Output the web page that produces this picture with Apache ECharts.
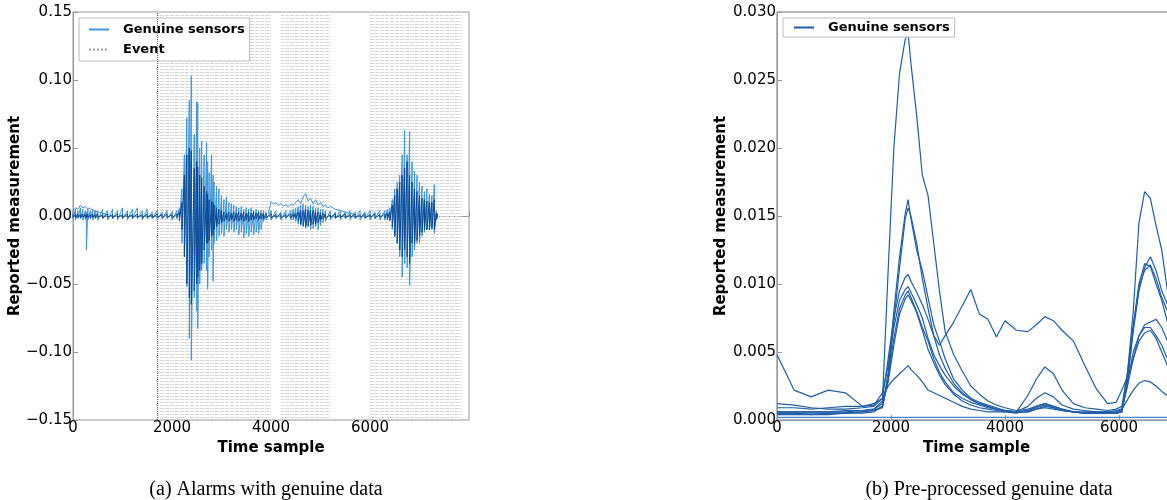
<!DOCTYPE html>
<html>
<head>
<meta charset="utf-8">
<title>Genuine sensors</title>
<script src="https://cdn.jsdelivr.net/npm/echarts@6/dist/echarts.min.js"></script>
<style>
html,body{margin:0;padding:0;background:#fff;}
#main{width:1167px;height:500px;}
</style>
</head>
<body>
<div id="main"></div>
<script>
// ---- (a) raw readings: envelope of all sensors ----
var rawT = [0,50,100,150,200,250,270,300,350,400,450,500,
	600,700,800,900,1000,1100,1200,1300,1400,1500,1600,1700,1800,1900,2000,2100,
	2150,2200,2250,2300,2350,2390,2450,2500,2520,2560,2600,2650,2700,2720,2750,2800,2830,2850,2900,2950,3000,
	3050,3100,3150,3200,3250,3300,3350,3400,3450,3500,3550,3600,3650,3700,3750,3800,3850,3900,
	4000,4100,4200,4300,4400,4450,4500,4550,4600,4650,4700,4750,4800,4850,4900,4950,5000,5050,5100,
	5200,5300,5400,5500,5600,5700,5800,5900,6000,6100,6200,6300,6350,
	6400,6450,6500,6550,6600,6650,6700,6750,6800,6850,6900,6950,7000,7050,7100,7150,7200,7250,7300,7340,7360];
var lightHi = [0.004,0.005,0.004,0.006,0.005,0.004,0.003,0.005,0.004,0.005,0.004,0.004,
	0.005,0.004,0.005,0.004,0.006,0.004,0.005,0.006,0.004,0.005,0.003,0.004,0.003,0.004,0.003,0.004,
	0.006,0.020,0.045,0.072,0.085,0.103,0.060,0.084,0.083,0.050,0.055,0.045,0.054,0.040,0.032,0.045,0.030,0.025,0.022,0.020,0.015,
	0.012,0.014,0.010,0.009,0.008,0.007,0.006,0.007,0.005,0.006,0.005,0.006,0.004,0.005,0.004,0.004,0.004,0.003,
	0.004,0.004,0.003,0.004,0.004,0.005,0.006,0.007,0.008,0.009,0.008,0.007,0.008,0.007,0.006,0.006,0.005,0.005,0.004,
	0.004,0.003,0.004,0.003,0.004,0.003,0.004,0.003,0.004,0.003,0.004,0.004,0.005,
	0.006,0.012,0.020,0.025,0.030,0.045,0.063,0.045,0.062,0.040,0.033,0.030,0.025,0.022,0.018,0.020,0.016,0.015,0.023,0.004,0.002];
var lightLo = [-0.002,-0.003,-0.002,-0.002,-0.003,-0.003,-0.025,-0.003,-0.002,-0.003,-0.002,-0.003,
	-0.002,-0.003,-0.002,-0.003,-0.002,-0.003,-0.002,-0.002,-0.003,-0.002,-0.002,-0.003,-0.002,-0.002,-0.003,-0.002,
	-0.004,-0.020,-0.030,-0.052,-0.090,-0.106,-0.060,-0.070,-0.083,-0.050,-0.040,-0.035,-0.040,-0.054,-0.030,-0.025,-0.048,-0.020,-0.018,-0.015,-0.013,
	-0.015,-0.010,-0.012,-0.010,-0.012,-0.010,-0.014,-0.012,-0.016,-0.013,-0.015,-0.012,-0.014,-0.012,-0.013,-0.010,-0.004,-0.003,
	-0.003,-0.002,-0.003,-0.002,-0.003,-0.003,-0.004,-0.006,-0.007,-0.008,-0.009,-0.008,-0.010,-0.009,-0.008,-0.010,-0.007,-0.005,-0.004,
	-0.003,-0.002,-0.003,-0.002,-0.003,-0.002,-0.003,-0.002,-0.003,-0.002,-0.003,-0.003,-0.003,
	-0.004,-0.010,-0.015,-0.020,-0.030,-0.045,-0.035,-0.038,-0.051,-0.030,-0.025,-0.020,-0.020,-0.015,-0.012,-0.010,-0.010,-0.010,-0.013,-0.003,-0.002];
var darkHi = [0.0015,0.001,0.0015,0.001,0.0015,0.001,0.001,0.0015,0.001,0.0015,0.001,0.0015,
	0.001,0.0015,0.001,0.0015,0.001,0.0015,0.001,0.0015,0.001,0.0015,0.001,0.0015,0.001,0.0015,0.001,0.0015,
	0.003,0.010,0.030,0.045,0.050,0.048,0.035,0.040,0.036,0.030,0.028,0.022,0.018,0.016,0.012,0.011,0.010,0.008,0.006,0.005,0.004,
	0.003,0.002,0.003,0.002,0.003,0.002,0.003,0.002,0.003,0.002,0.003,0.002,0.003,0.002,0.003,0.002,0.002,0.0015,
	0.0015,0.001,0.0015,0.001,0.0015,0.0015,0.002,0.003,0.004,0.004,0.005,0.004,0.004,0.004,0.003,0.003,0.002,0.002,0.0015,
	0.001,0.0015,0.001,0.0015,0.001,0.0015,0.001,0.0015,0.001,0.0015,0.001,0.0015,0.002,
	0.003,0.008,0.015,0.020,0.025,0.030,0.035,0.040,0.030,0.025,0.020,0.018,0.015,0.013,0.012,0.011,0.010,0.010,0.012,0.002,0.001];
var darkLo = [-0.001,-0.0015,-0.001,-0.0015,-0.001,-0.0015,-0.001,-0.001,-0.0015,-0.001,-0.0015,-0.001,
	-0.0015,-0.001,-0.0015,-0.001,-0.0015,-0.001,-0.0015,-0.001,-0.0015,-0.001,-0.0015,-0.001,-0.0015,-0.001,-0.0015,-0.001,
	-0.003,-0.010,-0.030,-0.050,-0.060,-0.065,-0.055,-0.050,-0.045,-0.040,-0.035,-0.025,-0.020,-0.020,-0.018,-0.015,-0.014,-0.010,-0.008,-0.006,-0.005,
	-0.004,-0.003,-0.004,-0.003,-0.004,-0.003,-0.004,-0.003,-0.004,-0.003,-0.004,-0.003,-0.003,-0.002,-0.003,-0.002,-0.002,-0.0015,
	-0.0015,-0.001,-0.0015,-0.001,-0.0015,-0.0015,-0.002,-0.004,-0.006,-0.007,-0.008,-0.007,-0.007,-0.006,-0.006,-0.005,-0.003,-0.002,-0.0015,
	-0.001,-0.0015,-0.001,-0.0015,-0.001,-0.0015,-0.001,-0.0015,-0.001,-0.0015,-0.001,-0.0015,-0.002,
	-0.003,-0.008,-0.015,-0.020,-0.025,-0.030,-0.025,-0.030,-0.035,-0.020,-0.020,-0.018,-0.015,-0.012,-0.010,-0.010,-0.010,-0.009,-0.010,-0.002,-0.001];
// one sensor sitting a little high at the start
var earlyT = [0,50,100,150,200,250,300,350,400,500,600,700];
var earlyV = [0.004,0.006,0.005,0.008,0.006,0.007,0.005,0.006,0.004,0.003,0.002,0.001];
// one sensor drifting up between the 1st and 3rd event
var driftT = [3950,4000,4050,4100,4150,4200,4250,4300,4350,4400,4450,4500,4550,4600,4650,4700,4750,4800,4850,4900,4950,5000,5050,5100,5150,5200,5300,5400,5500,5600,5700];
var driftV = [0.002,0.0105,0.009,0.0095,0.008,0.009,0.0075,0.008,0.007,0.0085,0.008,0.010,0.012,0.009,0.014,0.0165,0.011,0.013,0.009,0.012,0.008,0.010,0.007,0.008,0.006,0.007,0.005,0.004,0.003,0.002,0.001];
var eventRanges = [[1700,4000],[4200,5200],[6000,7850]];
var eventStart = 1700;

// ---- (b) pre-processed readings, one array per sensor ----
var ppT = [0,300,600,900,1200,1500,1700,1850,
	1950,2050,2150,2250,2300,2350,2450,2550,
	2650,2750,2850,2950,3100,3250,3400,3550,
	3700,3850,4000,4200,4400,4550,4700,4850,
	5000,5200,5400,5600,5800,5950,6050,6150,
	6250,6350,6450,6550,6650,6750,6850,6950];
var sensorA = [0.0006,0.0006,0.0006,0.0006,0.0007,0.0007,0.0008,0.0014,
	0.0110,0.0200,0.0255,0.0280,0.0284,0.0262,0.0224,0.0180,
	0.0165,0.0130,0.0095,0.0065,0.0048,0.0036,0.0025,0.0019,
	0.0014,0.0011,0.0009,0.0007,0.0008,0.0010,0.0012,0.0010,
	0.0008,0.0006,0.0005,0.0005,0.0005,0.0005,0.0006,0.0035,
	0.0080,0.0145,0.0168,0.0163,0.0143,0.0125,0.0095,0.0080];
var sensorB = [0.0005,0.0005,0.0005,0.0005,0.0005,0.0006,0.0007,0.0009,
	0.0035,0.0080,0.0120,0.0152,0.0162,0.0148,0.0125,0.0110,
	0.0090,0.0070,0.0058,0.0045,0.0030,0.0022,0.0016,0.0013,
	0.0011,0.0009,0.0007,0.0006,0.0007,0.0009,0.0011,0.0009,
	0.0007,0.0006,0.0005,0.0005,0.0005,0.0005,0.0006,0.0030,
	0.0065,0.0095,0.0112,0.0120,0.0110,0.0095,0.0085,0.0075];
var sensorC = [0.0012,0.0011,0.0009,0.0008,0.0008,0.0009,0.0010,0.0016,
	0.0045,0.0075,0.0095,0.0105,0.0107,0.0102,0.0094,0.0085,
	0.0074,0.0062,0.0055,0.0062,0.0072,0.0084,0.0096,0.0078,
	0.0074,0.0061,0.0073,0.0066,0.0065,0.0070,0.0076,0.0073,
	0.0066,0.0058,0.0040,0.0023,0.0012,0.0013,0.0022,0.0032,
	0.0045,0.0062,0.0070,0.0072,0.0074,0.0068,0.0058,0.0050];
var sensorD = [0.0009,0.0009,0.0008,0.0009,0.0010,0.0010,0.0012,0.0016,
	0.0025,0.0030,0.0034,0.0038,0.0040,0.0037,0.0033,0.0028,
	0.0022,0.0020,0.0018,0.0016,0.0013,0.0010,0.0008,0.0007,
	0.0006,0.0006,0.0006,0.0006,0.0006,0.0008,0.0009,0.0008,
	0.0007,0.0006,0.0006,0.0006,0.0006,0.0007,0.0008,0.0015,
	0.0022,0.0027,0.0029,0.0028,0.0025,0.0021,0.0018,0.0016];
var sensorE = [0.0048,0.0022,0.0017,0.0022,0.0020,0.0010,0.0011,0.0020,
	0.0040,0.0068,0.0088,0.0096,0.0098,0.0094,0.0085,0.0075,
	0.0060,0.0048,0.0040,0.0033,0.0025,0.0019,0.0015,0.0012,
	0.0010,0.0008,0.0007,0.0006,0.0018,0.0030,0.0039,0.0034,
	0.0022,0.0012,0.0009,0.0008,0.0007,0.0008,0.0010,0.0035,
	0.0070,0.0100,0.0115,0.0113,0.0100,0.0088,0.0072,0.0062];
var sensorF = [0.0006,0.0006,0.0006,0.0006,0.0006,0.0007,0.0008,0.0012,
	0.0030,0.0060,0.0082,0.0092,0.0095,0.0090,0.0080,0.0068,
	0.0058,0.0045,0.0035,0.0028,0.0020,0.0016,0.0013,0.0011,
	0.0009,0.0008,0.0007,0.0006,0.0010,0.0016,0.0020,0.0017,
	0.0011,0.0008,0.0007,0.0006,0.0006,0.0006,0.0008,0.0028,
	0.0050,0.0062,0.0068,0.0068,0.0062,0.0055,0.0045,0.0040];
var sensorG = [0.0005,0.0005,0.0004,0.0004,0.0005,0.0005,0.0006,0.0010,
	0.0028,0.0055,0.0078,0.0089,0.0092,0.0088,0.0079,0.0066,
	0.0052,0.0042,0.0033,0.0026,0.0019,0.0014,0.0011,0.0009,
	0.0008,0.0007,0.0006,0.0005,0.0007,0.0010,0.0012,0.0010,
	0.0008,0.0006,0.0005,0.0005,0.0005,0.0005,0.0007,0.0025,
	0.0045,0.0058,0.0064,0.0066,0.0060,0.0050,0.0040,0.0035];
var sensorH = [0.0004,0.0004,0.0004,0.0005,0.0005,0.0006,0.0007,0.0010,
	0.0030,0.0072,0.0112,0.0148,0.0156,0.0150,0.0130,0.0104,
	0.0082,0.0062,0.0048,0.0038,0.0027,0.0020,0.0015,0.0012,
	0.0010,0.0008,0.0007,0.0006,0.0006,0.0008,0.0010,0.0009,
	0.0007,0.0006,0.0005,0.0005,0.0005,0.0005,0.0006,0.0030,
	0.0068,0.0098,0.0110,0.0114,0.0104,0.0090,0.0080,0.0070];
var flatT = [0,7000];
var flatV = [0.0002,0.0002];

var xTicks = [0,2000,4000,6000];

function zip(t, v){
	var out = [];
	for (var i = 0; i < t.length; i++) out.push([t[i], v[i]]);
	return out;
}
// each sample drawn as a vertical stroke from high to low
function strokes(t, hi, lo){
	var out = [];
	for (var i = 0; i < t.length; i++){
		out.push([t[i], hi[i]]);
		out.push([t[i], lo[i]]);
	}
	return out;
}
function fmtNum(v, d){
	if (Math.abs(v) < 1e-9) return (0).toFixed(d);
	return (v < 0 ? '\u2212' : '') + Math.abs(v).toFixed(d);
}

// hatch pattern for the event zones
var hatch = document.createElement('canvas');
hatch.width = 5; hatch.height = 3;
var hctx = hatch.getContext('2d');
hctx.fillStyle = '#d6d6d6';
hctx.fillRect(0, 0, 4, 1);

var font = 'DejaVu Sans';
function xAxisOpt(idx, max){
	return {
		type:'value', gridIndex:idx, min:0, max:max, interval:2000,
		name:'Time sample', nameLocation:'middle', nameGap:13,
		nameTextStyle:{fontFamily:font, fontWeight:'bold', fontSize:15, color:'#000'},
		axisLine:{lineStyle:{color:'#999'}},
		axisTick:{inside:true, length:5, lineStyle:{color:'#999'}},
		splitLine:{show:false},
		axisLabel:{margin:1, fontFamily:font, fontSize:15, color:'#000',
			formatter:function(v){ return xTicks.indexOf(v) >= 0 ? String(v) : ''; }}
	};
}
function yAxisOpt(idx, min, max, step, dec, gap){
	return {
		type:'value', gridIndex:idx, min:min, max:max, interval:step,
		name:'Reported measurement', nameLocation:'middle', nameGap:gap,
		nameTextStyle:{fontFamily:font, fontWeight:'bold', fontSize:15, color:'#000'},
		axisLine:{show:true, lineStyle:{color:'#999'}},
		axisTick:{show:true, inside:true, length:5, lineStyle:{color:'#999'}},
		splitLine:{show:false},
		axisLabel:{margin:1, fontFamily:font, fontSize:15, color:'#000',
			formatter:function(v){ return fmtNum(v, dec); }}
	};
}

var legendText = {fontFamily:font, fontWeight:'bold', fontSize:13, color:'#000', padding:[0,0,0,9]};

var series = [
	{
		name:'Event', type:'line', xAxisIndex:0, yAxisIndex:0, data:[],
		symbol:'none', lineStyle:{color:'#999', type:'dotted', width:1}, itemStyle:{color:'#999'},
		markArea:{silent:true, itemStyle:{color:{image:hatch, repeat:'repeat'}},
			data:eventRanges.map(function(r){ return [{xAxis:r[0]}, {xAxis:r[1]}]; })},
		markLine:{silent:true, symbol:'none', label:{show:false},
			lineStyle:{color:'#666', type:'dotted', width:1},
			data:[{xAxis:eventStart}]}
	},
	{
		name:'Genuine sensors', type:'line', xAxisIndex:0, yAxisIndex:0,
		data:strokes(rawT, lightHi, lightLo), symbol:'none',
		lineStyle:{color:'#3d95dd', width:1}, itemStyle:{color:'#7fa9d8'}
	},
	{
		name:'early', type:'line', xAxisIndex:0, yAxisIndex:0,
		data:zip(earlyT, earlyV), symbol:'none', lineStyle:{color:'#3d95dd', width:1}
	},
	{
		name:'drift', type:'line', xAxisIndex:0, yAxisIndex:0,
		data:zip(driftT, driftV), symbol:'none', lineStyle:{color:'#3d95dd', width:1}
	},
	{
		name:'core', type:'line', xAxisIndex:0, yAxisIndex:0,
		data:strokes(rawT, darkHi, darkLo), symbol:'none',
		lineStyle:{color:'#0c4a94', width:1}
	}
];

var ppLines = [sensorA, sensorB, sensorC, sensorD, sensorE, sensorF, sensorG, sensorH];
ppLines.forEach(function(v, i){
	series.push({
		name: i === 0 ? 'Genuine sensors (b)' : 'sensor ' + i,
		type:'line', xAxisIndex:1, yAxisIndex:1,
		data:zip(ppT, v), symbol:'none',
		lineStyle:{color:'#1f5da8', width:1.2}, itemStyle:{color:'#1f5da8'}
	});
});
series.push({
	name:'flat', type:'line', xAxisIndex:1, yAxisIndex:1,
	data:zip(flatT, flatV), symbol:'none', lineStyle:{color:'#4a88c9', width:1.2}
});

var chart = echarts.init(document.getElementById('main'));
chart.setOption({
	animation:false,
	grid:[
		{left:73, width:396, top:12, bottom:80, show:true, borderColor:'#999', borderWidth:1, outerBoundsMode:'none'},
		{left:777, width:399, top:12, bottom:80, show:true, borderColor:'#777', borderWidth:1, outerBoundsMode:'none'}
	],
	xAxis:[xAxisOpt(0, 8000), xAxisOpt(1, 7000)],
	yAxis:[yAxisOpt(0, -0.15, 0.15, 0.05, 2, 50), yAxisOpt(1, 0, 0.03, 0.005, 3, 48)],
	legend:[
		{left:79, top:18, orient:'vertical', itemWidth:20, itemHeight:12, itemGap:7,
			padding:[5,5,5,9], borderColor:'#bbb', borderWidth:1, backgroundColor:'#fff',
			selectedMode:false, textStyle:legendText, itemStyle:{opacity:0},
			data:['Genuine sensors', 'Event']},
		{left:783, top:18, itemWidth:20, itemHeight:12,
			padding:[3,5,3,10], borderColor:'#bbb', borderWidth:1, backgroundColor:'#fff',
			selectedMode:false, textStyle:legendText, itemStyle:{opacity:0},
			formatter:function(){ return 'Genuine sensors'; },
			data:['Genuine sensors (b)']}
	],
	graphic:[
		{type:'text', style:{text:'(a) Alarms with genuine data', x:266, y:490,
			align:'center', verticalAlign:'middle', font:'20px "Liberation Serif"', fill:'#000'}},
		{type:'text', style:{text:'(b) Pre-processed genuine data', x:989, y:490,
			align:'center', verticalAlign:'middle', font:'20px "Liberation Serif"', fill:'#000'}}
	],
	series:series
});
</script>
</body>
</html>
